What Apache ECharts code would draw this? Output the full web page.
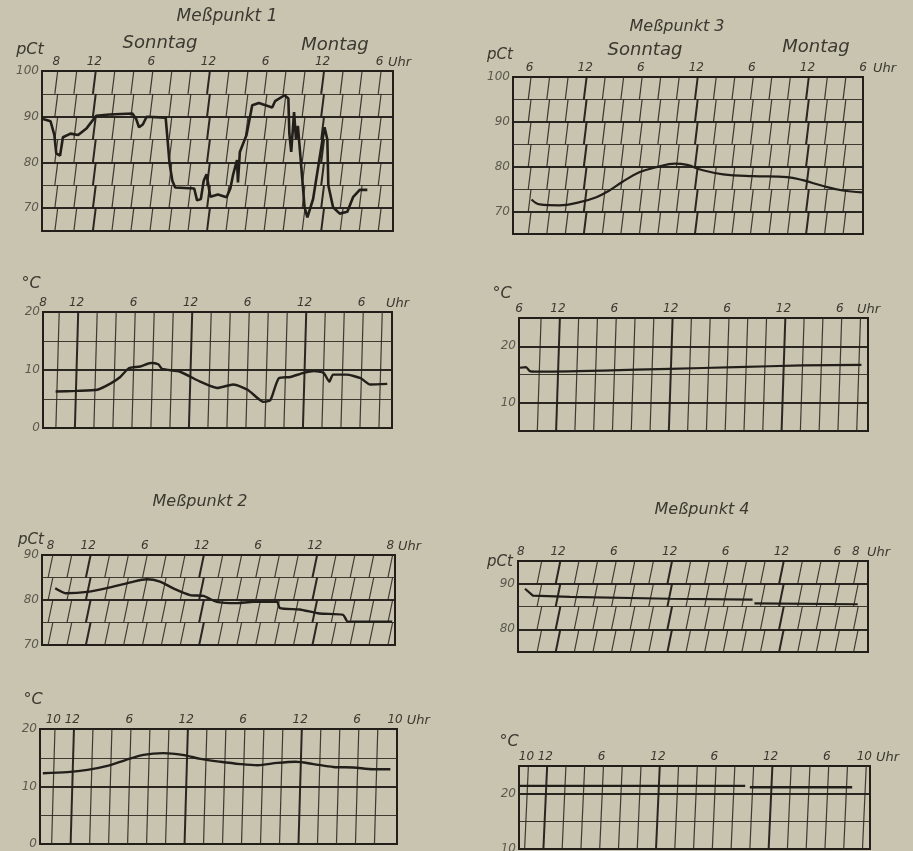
<!DOCTYPE html>
<html>
<head>
<meta charset="utf-8">
<script src="https://cdn.jsdelivr.net/npm/echarts@6/dist/echarts.min.js"></script>
<style>
  html, body { margin: 0; padding: 0; background: #c8c4b0; }
  #main { width: 913px; height: 851px; }
</style>
</head>
<body>
<div id="main"></div>
<script>
// x = Stunden ab Sonntag 0 Uhr, y = rel. Feuchte (pCt) bzw. Temperatur (°C)
// Meßpunkt 1
const mp1Feuchte = [[6.6,89.5],[7.4,89],[7.8,86],[8.0,82],[8.4,81.5],[8.7,85.5],[9.5,86.3],[10.3,86],[11.2,87.5],[12.2,90.2],[13.6,90.5],[16.0,90.7],[16.4,89.5],[16.7,87.7],[17.1,88.3],[17.5,90],[19.5,89.8],[19.7,85],[19.9,80],[20.2,76],[20.5,74.5],[22.5,74.3],[22.8,71.7],[23.2,72],[23.5,76],[23.8,77.4],[24.2,72.5],[25.0,73],[25.9,72.4],[26.3,74.3],[26.6,77.4],[27.0,80.5],[27.1,75.6],[27.3,82.3],[28.0,86],[28.6,92.5],[29.3,93],[30.7,92],[31.0,93.4],[32.0,94.7],[32.4,94],[32.5,86.4],[32.7,82.3],[33.0,91],[33.2,85],[33.4,88],[33.8,78],[34.1,70.2],[34.4,68],[35.0,72],[35.7,81.2],[36.2,87.7],[36.5,85],[36.6,75],[37.1,70.2],[37.8,68.8],[38.6,69.2],[39.2,72.4],[39.9,74],[40.7,74]];
const mp1Temp = [[9.8,6.3],[12.0,6.4],[14.2,6.6],[15.6,7.7],[16.6,8.8],[17.5,10.3],[18.7,10.6],[19.8,11.2],[20.6,11.0],[21.0,10.2],[22.9,9.7],[25.0,8.0],[26.8,6.9],[28.5,7.5],[30.0,6.6],[31.7,4.5],[32.4,4.8],[33.3,8.6],[34.5,8.8],[35.9,9.5],[37.0,9.8],[38.0,9.5],[38.6,8.0],[39.0,9.2],[40.4,9.2],[41.9,8.6],[42.9,7.5],[44.7,7.6]];
// Meßpunkt 3
const mp3Feuchte = [[6.2,72.7],[7.1,71.6],[9.2,71.4],[11.4,72.1],[13.2,73.2],[14.6,74.7],[16.0,76.6],[17.9,78.8],[19.7,79.9],[21.7,80.7],[23.0,80.4],[24.7,79.2],[26.9,78.3],[30.1,77.9],[33.8,77.7],[35.5,77.0],[37.7,75.7],[39.8,74.7],[41.9,74.3]];
const mp3Temp = [[7.9,16.2],[8.6,16.3],[9.0,15.6],[9.8,15.5],[16.8,15.7],[23.9,16.0],[31.0,16.3],[38.0,16.6],[44.3,16.7]];
// Meßpunkt 2
const mp2Feuchte = [[8.5,82.6],[9.6,81.5],[11.9,81.8],[14.3,82.8],[16.8,84.1],[18.2,84.6],[19.6,84.1],[21.0,82.6],[22.8,81.1],[24.2,80.9],[25.6,79.6],[27.7,79.3],[29.5,79.6],[32.0,79.6],[32.3,78.2],[34.4,77.9],[36.5,77.0],[39.0,76.7],[39.5,75.2],[44.2,75.2]];
const mp2Temp = [[8.9,12.3],[11.5,12.5],[13.6,12.9],[15.7,13.6],[17.6,14.6],[19.5,15.5],[21.6,15.8],[23.6,15.5],[25.5,14.8],[27.6,14.3],[29.7,13.9],[31.5,13.7],[33.6,14.1],[35.5,14.3],[37.4,13.9],[39.5,13.4],[41.6,13.3],[43.7,13.0],[45.5,13.0]];
// Meßpunkt 4
const mp4FeuchteA = [[8.45,88.9],[9.3,87.4],[13.3,87.1],[24.0,86.7],[32.9,86.5]];
const mp4FeuchteB = [[33.1,85.7],[44.2,85.5]];
const mp4TempA = [[9.3,21.4],[33.3,21.4]];
const mp4TempB = [[33.8,21.15],[44.7,21.15]];

// Uhrzeit-Beschriftung
const uhrTicksA = [8,12,18,24,30,36,42];
const uhrLabelsA = ['8','12','6','12','6','12','6'];
const uhrTicksB = [6,12,18,24,30,36,42];
const uhrLabelsB = ['6','12','6','12','6','12','6'];
const uhrTicksC = [8,12,18,24,30,36,44];
const uhrLabelsC = ['8','12','6','12','6','12','8'];
const uhrTicksD = [10,12,18,24,30,36,42,46];
const uhrLabelsD = ['10','12','6','12','6','12','6','10'];
const uhrTicksE = [8,12,18,24,30,36,42,44];
const uhrLabelsE = ['8','12','6','12','6','12','6','8'];

// y-Beschriftung
const pctLabels4 = [70,80,90,100];
const pctLabels3 = [70,80,90];
const pctLabels2 = [80,90];
const gradLabels3 = [0,10,20];
const gradLabels2 = [10,20];

const ink = '#221e19';
const font = '"DejaVu Sans", sans-serif';

const panels = [
  {grid:{left:42, top:71, width:351, height:160}, x:[6.5,43.4], y:[65,100], yLabels:pctLabels4, ticks:uhrTicksA, labels:uhrLabelsA, uhrGap:-5, banded:true, slant:0.3, data:[mp1Feuchte], width:2.6, smooth:false},
  {grid:{left:43, top:312, width:349, height:116}, x:[8.47,45.2], y:[0,20], yLabels:gradLabels3, ticks:uhrTicksA, labels:uhrLabelsA, uhrGap:-6, banded:false, slant:0.35, data:[mp1Temp], width:2.4, smooth:0.2},
  {grid:{left:513, top:77, width:350, height:157}, x:[4.2,42], y:[65,100], yLabels:pctLabels4, ticks:uhrTicksB, labels:uhrLabelsB, uhrGap:10, banded:true, slant:0.3, data:[mp3Feuchte], width:2.2, smooth:0.4},
  {grid:{left:519, top:318, width:349, height:113}, x:[7.85,45], y:[5,25], yLabels:gradLabels2, ticks:uhrTicksB, labels:uhrLabelsB, uhrGap:-11, banded:false, slant:0.4, data:[mp3Temp], width:2.2, smooth:0.2},
  {grid:{left:42, top:555, width:353, height:90}, x:[7.1,44.5], y:[70,90], yLabels:pctLabels3, ticks:uhrTicksC, labels:uhrLabelsC, uhrGap:2, banded:true, slant:0.5, data:[mp2Feuchte], width:2.4, smooth:0.2},
  {grid:{left:40, top:729, width:357, height:115}, x:[8.6,46.2], y:[0,20], yLabels:gradLabels3, ticks:uhrTicksD, labels:uhrLabelsD, uhrGap:2, banded:false, slant:0.35, data:[mp2Temp], width:2.4, smooth:0.3},
  {grid:{left:518, top:561, width:350, height:91}, x:[7.7,45.3], y:[75,95], yLabels:pctLabels2, ticks:uhrTicksE, labels:uhrLabelsE, uhrGap:-1, banded:true, slant:0.5, data:[mp4FeuchteA, mp4FeuchteB], width:2.2, smooth:false},
  {grid:{left:519, top:766, width:351, height:83}, x:[9.2,46.6], y:[10,25], yLabels:gradLabels2, ticks:uhrTicksD, labels:uhrLabelsD, uhrGap:2, banded:false, slant:0.4, data:[mp4TempA, mp4TempB], width:2.4, smooth:false}
];

const texte = [
  ['Meßpunkt 1', 227, 17, 17], ['Sonntag', 160, 43, 18], ['Montag', 335, 45, 18], ['pCt', 30, 50, 16], ['°C', 31, 284, 16],
  ['Meßpunkt 3', 677, 27, 16], ['Sonntag', 645, 50, 18], ['Montag', 816, 47, 18], ['pCt', 500, 55, 15], ['°C', 502, 294, 16],
  ['Meßpunkt 2', 200, 502, 16], ['pCt', 31, 540, 15], ['°C', 33, 700, 16],
  ['Meßpunkt 4', 702, 510, 16], ['pCt', 500, 562, 15], ['°C', 509, 742, 16]
];

function gridLines(p) {
  const thin = [], thick = [];
  const [x0, x1] = p.x, [y0, y1] = p.y;
  for (let y = y0 + 5; y < y1; y += 5) {
    (y % 10 === 0 ? thick : thin).push({coords: [[x0, y], [x1, y]]});
  }
  for (let h = Math.ceil(x0 / 2) * 2; h <= x1; h += 2) {
    if (h - x0 < 0.4 || x1 - h < 0.4) continue;
    const dst = h % 12 === 0 ? thick : thin;
    const s = p.slant / 2;
    if (p.banded) {
      for (let y = y0; y < y1; y += 5) dst.push({coords: [[h - s, y], [h + s, y + 5]]});
    } else {
      dst.push({coords: [[h - s, y0], [h + s, y1]]});
    }
  }
  return {thin, thick};
}

const grid = [], xAxis = [], yAxis = [], series = [];
panels.forEach((p, i) => {
  grid.push(Object.assign({show: true, borderColor: ink, borderWidth: 2, outerBoundsMode: 'none'}, p.grid));
  const tv = p.ticks.map(t => Math.max(t, p.x[0]));
  xAxis.push({
    type: 'value', gridIndex: i, position: 'top', min: p.x[0], max: p.x[1],
    axisLine: {show: false, onZero: false}, axisTick: {show: false}, splitLine: {show: false},
    axisLabel: {
      customValues: tv, margin: 3, fontStyle: 'italic', fontSize: 12, fontFamily: font, color: '#3b3830',
      formatter: v => { const k = tv.findIndex(t => Math.abs(t - v) < 1e-6); return k < 0 ? '' : p.labels[k]; }
    },
    name: 'Uhr', nameLocation: 'end', nameGap: p.uhrGap,
    nameTextStyle: {fontStyle: 'italic', fontSize: 13, fontFamily: font, color: '#3b3830', align: 'left', verticalAlign: 'bottom', padding: [0, 0, 2, 0]}
  });
  yAxis.push({
    type: 'value', gridIndex: i, min: p.y[0], max: p.y[1],
    axisLine: {show: false, onZero: false}, axisTick: {show: false}, splitLine: {show: false},
    axisLabel: {customValues: p.yLabels, margin: 3, fontStyle: 'italic', fontSize: 12, fontFamily: font, color: '#5b584e'}
  });
  const g = gridLines(p);
  series.push({type: 'lines', coordinateSystem: 'cartesian2d', xAxisIndex: i, yAxisIndex: i, silent: true, z: 1,
    lineStyle: {color: '#2f2a24', width: 1.2, opacity: 0.9}, data: g.thin});
  series.push({type: 'lines', coordinateSystem: 'cartesian2d', xAxisIndex: i, yAxisIndex: i, silent: true, z: 1,
    lineStyle: {color: ink, width: 2, opacity: 0.95}, data: g.thick});
  p.data.forEach(d => {
    series.push({type: 'line', xAxisIndex: i, yAxisIndex: i, data: d, showSymbol: false, smooth: p.smooth, z: 5,
      silent: true, lineStyle: {color: ink, width: p.width}});
  });
});

const chart = echarts.init(document.getElementById('main'));
chart.setOption({
  backgroundColor: '#c8c4b0',
  animation: false,
  grid, xAxis, yAxis, series,
  graphic: texte.map(t => ({
    type: 'text', x: t[1], y: t[2],
    style: {text: t[0], fontSize: t[3], fontStyle: 'italic', fontFamily: font, fill: '#3b3830', align: 'center', verticalAlign: 'middle'}
  }))
});
</script>
</body>
</html>
